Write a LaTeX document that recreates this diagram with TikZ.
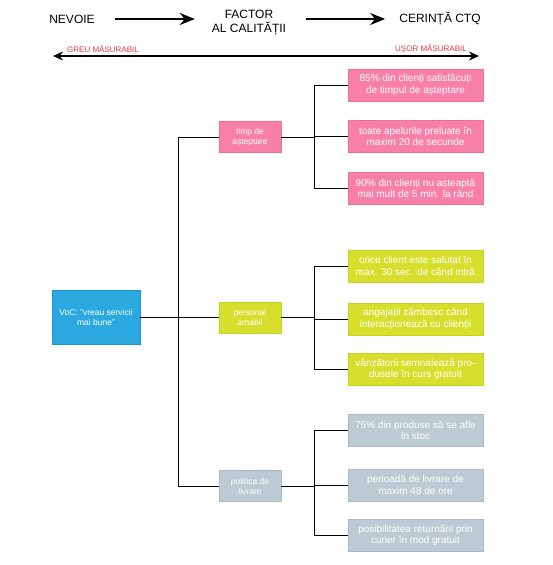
\documentclass[tikz,border=0pt]{standalone}
\usepackage{fontspec}
\setmainfont{Liberation Sans}
\usetikzlibrary{arrows.meta}
\definecolor{pinkf}{HTML}{F880A8}
\definecolor{pinkd}{HTML}{F06E9A}
\definecolor{yelf}{HTML}{D6DF2B}
\definecolor{yeld}{HTML}{C8D21E}
\definecolor{grayf}{HTML}{BCCBD3}
\definecolor{grayd}{HTML}{A9BAC4}
\definecolor{bluef}{HTML}{2BA8E0}
\definecolor{blued}{HTML}{1E96CF}
\definecolor{redl}{HTML}{E0393E}
\begin{document}
\begin{tikzpicture}[x=1pt,y=-1pt,
  head/.style={font=\fontsize{12}{14}\selectfont, inner sep=0pt, align=center},
  bigarrow/.style={line width=2pt, -{Stealth[length=15pt,width=12pt]}},
  dblarrow/.style={line width=1.3pt, {Stealth[length=10pt,width=9pt]}-{Stealth[length=10pt,width=9pt]}},
  redlab/.style={font=\fontsize{8}{9}\selectfont, text=redl, inner sep=0pt},
  bigbox/.style={rectangle, minimum width=135pt, minimum height=32pt, inner sep=0pt, align=center, text=white, font=\fontsize{10}{11.5}\selectfont, line width=0.8pt},
  smallbox/.style={rectangle, minimum width=62pt, minimum height=31pt, inner sep=0pt, align=center, text=white, font=\fontsize{8.5}{10}\selectfont, line width=0.8pt},
  pinkbox/.style={fill=pinkf, draw=pinkd},
  yelbox/.style={fill=yelf, draw=yeld},
  graybox/.style={fill=grayf, draw=grayd},
  conn/.style={line width=1pt, black}
]
\useasboundingbox (0,0) rectangle (553,565);
\fill[white] (0,0) rectangle (553,565);

% header
\node[head] (nevoie) at (72,19) {NEVOIE};
\node[head] (factor) at (249,23) {FACTOR\\AL CALITĂȚII};
\node[head] (cerinta) at (440,19) {CERINȚĂ CTQ};
\draw[bigarrow, shorten <=20pt, shorten >=17pt] (nevoie.east) -- (nevoie.east -| factor.west);
\draw[bigarrow, shorten <=20pt, shorten >=14pt] (factor.east |- cerinta.west) -- (cerinta.west);

\coordinate (dl) at (53,56);
\coordinate (dr) at (479,56);
\draw[dblarrow] (dl) -- (dr);
\node[redlab] (greu) at (103,49) {GREU MĂSURABIL};
\node[redlab] (usor) at (431,49) {UȘOR MĂSURABIL};

% VoC
\node[rectangle, minimum width=88pt, minimum height=54pt, inner sep=0pt, align=center, text=white, font=\fontsize{8.5}{10}\selectfont, fill=bluef, draw=blued, line width=0.8pt] (voc) at (96,317) {VoC: "vreau servicii\\mai bune"};

% small boxes
\node[smallbox, pinkbox] (s1) at (250,137) {timp de\\așteptare};
\node[smallbox, yelbox] (s2) at (250,317.5) {personal\\amabil};
\node[smallbox, graybox] (s3) at (250,486) {politica de\\livrare};

% big boxes
\node[bigbox, pinkbox] (p1) at (415.5,85) {85\% din clienți satisfăcuți\\de timpul de așteptare};
\node[bigbox, pinkbox] (p2) at (415.5,136.5) {toate apelurile preluate în\\maxim 20 de secunde};
\node[bigbox, pinkbox] (p3) at (415.5,188.5) {90\% din clienți nu așteaptă\\mai mult de 5 min. la rând};

\node[bigbox, yelbox] (y1) at (415.5,266) {orice client este salutat în\\max. 30 sec. de când intră};
\node[bigbox, yelbox] (y2) at (415.5,319) {angajații zâmbesc când\\interacționează cu clienții};
\node[bigbox, yelbox] (y3) at (415.5,369.5) {vânzătorii semnalează pro-\\dusele în curs gratuit};

\node[bigbox, graybox] (g1) at (415.5,430.5) {75\% din produse să se afle\\în stoc};
\node[bigbox, graybox] (g2) at (415.5,485) {perioadă de livrare de\\maxim 48 de ore};
\node[bigbox, graybox] (g3) at (415.5,535.5) {posibilitatea returnării prin\\curier în mod gratuit};

% trunk
\coordinate (tr) at (178,0);
\draw[conn] (s1.west) -- (s1.west -| tr) -- (s3.west -| tr) -- (s3.west);
\draw[conn] (voc.east) -- (voc.east -| tr);
\draw[conn] (s2.west) -- (s2.west -| tr);

% branches
\coordinate (br) at (314,0);
\foreach \s/\a/\b/\c in {s1/p1/p2/p3, s2/y1/y2/y3, s3/g1/g2/g3}{
  \draw[conn] (\s.east) -- (\s.east -| br);
  \draw[conn] (\a.west) -- (\a.west -| br) -- (\c.west -| br) -- (\c.west);
  \draw[conn] (\b.west) -- (\b.west -| br);
}
\end{tikzpicture}
\end{document}
